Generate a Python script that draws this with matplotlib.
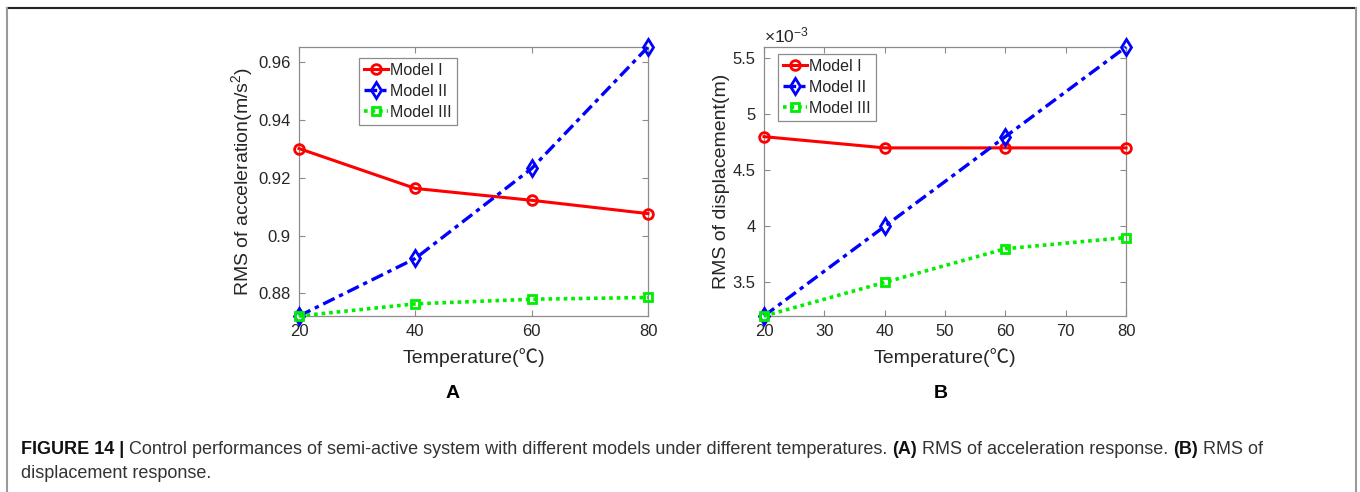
import matplotlib
matplotlib.use("Agg")
import matplotlib.pyplot as plt
from matplotlib.lines import Line2D
from matplotlib.ticker import FuncFormatter

plt.rcParams['font.family'] = ['Liberation Sans', 'Noto Sans CJK SC', 'DejaVu Sans']
plt.rcParams['mathtext.fontset'] = 'custom'
plt.rcParams['mathtext.rm'] = 'Liberation Sans'
plt.rcParams['mathtext.it'] = 'Liberation Sans:italic'

# ---- data ----
temperature = [20, 40, 60, 80]
series_names = ["Model I", "Model II", "Model III"]

acc_model1 = [0.9301, 0.9163, 0.9122, 0.9076]
acc_model2 = [0.8722, 0.8921, 0.9232, 0.9652]
acc_model3 = [0.8722, 0.8764, 0.8780, 0.8786]

disp_model1 = [4.8e-3, 4.7e-3, 4.7e-3, 4.7e-3]
disp_model2 = [3.2e-3, 4.0e-3, 4.8e-3, 5.6e-3]
disp_model3 = [3.2e-3, 3.5e-3, 3.8e-3, 3.9e-3]

acc_yticks = [0.88, 0.90, 0.92, 0.94, 0.96]
disp_yticks = [3.5e-3, 4.0e-3, 4.5e-3, 5.0e-3, 5.5e-3]
acc_xticks = [20, 40, 60, 80]
disp_xticks = [20, 30, 40, 50, 60, 70, 80]

W, H = 1360, 492
fig = plt.figure(figsize=(W / 100, H / 100), dpi=100)

def fx(px):
    return px / W

def fy(py):
    return 1 - py / H

styles = [
    dict(color='#ff0000', linestyle='-', marker='o', lw=2.2, ms=7, mew=2.0),
    dict(color='#0000ff', linestyle=(0, (3.8, 1.5, 1.3, 1.5)), marker='d', lw=2.4, ms=8, mew=2.0),
    dict(color='#00ee00', linestyle=(0, (1, 1.1)), marker='s', lw=2.6, ms=6, mew=2.0),
]

spine_col = '#8c8c8c'
text_col = '#262626'

def style_axes(ax, xticks, yticks, ylim, yfmt, ylabel):
    ax.set_xlim(20, 80)
    ax.set_ylim(*ylim)
    ax.set_xticks(xticks)
    ax.set_yticks(yticks)
    ax.yaxis.set_major_formatter(FuncFormatter(yfmt))
    ax.tick_params(direction='in', length=4, width=0.8, top=True, right=True,
                   color=spine_col, labelcolor=text_col, labelsize=12, pad=6)
    for s in ax.spines.values():
        s.set_color(spine_col)
        s.set_linewidth(0.9)
    ax.set_xlabel('Temperature(℃)', fontsize=14, color=text_col, labelpad=6,
                  family=['Liberation Sans', 'Noto Sans CJK SC'])
    ax.set_ylabel(ylabel, fontsize=14, color=text_col, labelpad=2)

def draw_series(ax, ys_list):
    for name, ys, st in zip(series_names, ys_list, styles):
        ax.plot(temperature, ys, color=st['color'], linestyle=st['linestyle'],
                marker=st['marker'], lw=st['lw'], ms=st['ms'], mew=st['mew'],
                mfc='none', label=name, clip_on=False, zorder=3)

# ---- panel A ----
axA = fig.add_axes([fx(299), fy(316), fx(349), 269 / H])
draw_series(axA, [acc_model1, acc_model2, acc_model3])
style_axes(axA, acc_xticks, acc_yticks, (min(acc_model2), max(acc_model2)),
           lambda v, p: f'{v:g}', 'RMS of acceleration(m/s$^2$)')

# ---- panel B ----
axB = fig.add_axes([fx(764), fy(316), fx(362), 269 / H])
draw_series(axB, [disp_model1, disp_model2, disp_model3])
style_axes(axB, disp_xticks, disp_yticks, (min(disp_model2), max(disp_model2)),
           lambda v, p: f'{v * 1e3:g}', 'RMS of displacement(m)')
axB.text(0.0, 1.005, '×10$^{-3}$', transform=axB.transAxes, ha='left', va='bottom',
         fontsize=12.5, color=text_col)

def add_legend(ax, left_px, top_px):
    leg = ax.legend(loc='upper left', bbox_to_anchor=(fx(left_px), fy(top_px)),
                    bbox_transform=fig.transFigure, fontsize=11.5, frameon=True,
                    fancybox=False, edgecolor='#8c8c8c', framealpha=1,
                    handlelength=1.5, handletextpad=0.15, borderpad=0.3,
                    labelspacing=0.38, borderaxespad=0)
    leg.get_frame().set_linewidth(0.9)
    for t in leg.get_texts():
        t.set_color(text_col)

add_legend(axA, 359, 58)
add_legend(axB, 778, 54)

# panel letters
fig.text(fx(453), fy(394), 'A', ha='center', va='center', fontsize=14, weight='bold')
fig.text(fx(941), fy(394), 'B', ha='center', va='center', fontsize=14, weight='bold')

# ---- frame around the figure ----
fig.add_artist(Line2D([fx(7), fx(1356)], [fy(8), fy(8)], transform=fig.transFigure,
                      color='#222222', lw=1.5))
fig.add_artist(Line2D([fx(7), fx(7)], [fy(8), 0], transform=fig.transFigure,
                      color='#9a9a9a', lw=1.5))
fig.add_artist(Line2D([fx(1356), fx(1356)], [fy(8), 0], transform=fig.transFigure,
                      color='#9a9a9a', lw=1.5))

# ---- caption ----
cap_size = 13
renderer = fig.canvas.get_renderer()
line1 = [
    ('FIGURE 14 | ', 'bold', '#111111'),
    ('Control performances of semi-active system with different models under different temperatures. ', 'normal', '#333333'),
    ('(A)', 'bold', '#111111'),
    (' RMS of acceleration response. ', 'normal', '#333333'),
    ('(B)', 'bold', '#111111'),
    (' RMS of', 'normal', '#333333'),
]
x = 21
y1 = 450
for txt, wt, col in line1:
    t = fig.text(fx(x), fy(y1), txt, fontsize=cap_size, weight=wt, color=col,
                 ha='left', va='center')
    bb = t.get_window_extent(renderer=renderer)
    x += bb.width
fig.text(fx(21), fy(474), 'displacement response.', fontsize=cap_size, color='#333333',
         ha='left', va='center')

fig.savefig('out.png', dpi=100, facecolor='white')
